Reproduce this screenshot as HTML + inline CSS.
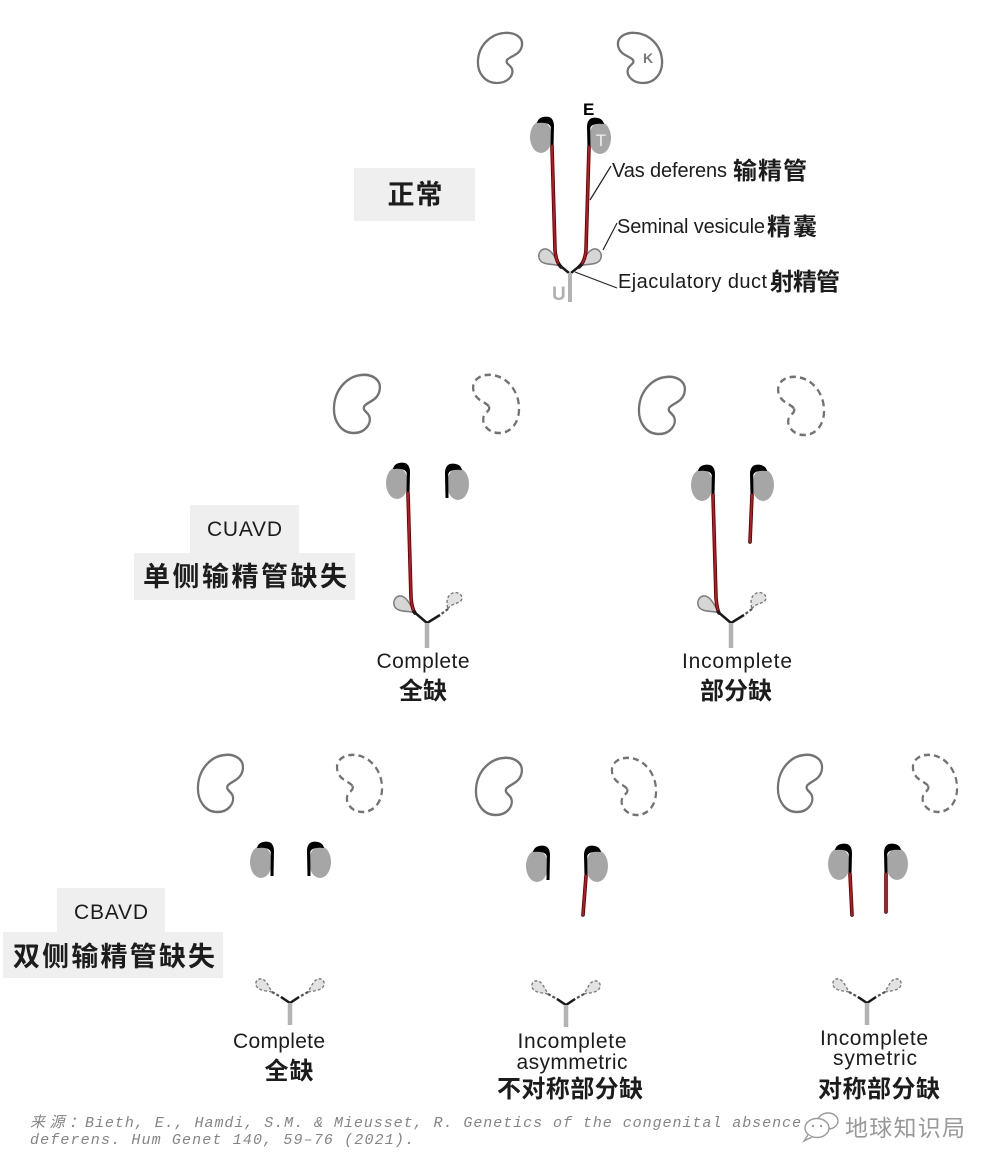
<!DOCTYPE html>
<html><head><meta charset="utf-8">
<style>
html,body{margin:0;padding:0;background:#fff;width:1000px;height:1170px;overflow:hidden}
svg{display:block}
.lat{font-family:"Liberation Sans",sans-serif;fill:#1c1c1c}
.cjk{font-family:"Liberation Sans","Noto Sans CJK SC",sans-serif;font-weight:bold;fill:#1c1c1c}
.mono{font-family:"Liberation Mono","Noto Sans CJK SC",monospace;font-style:italic;fill:#858585}
</style></head>
<body>
<svg width="1000" height="1170" viewBox="0 0 1000 1170" xmlns="http://www.w3.org/2000/svg">
<defs>
  <path id="kid" d="M30,27 C33,23 44,22 45,12 C46,3 36,-1 27,0 C14,1 2,12 1,27 C0,40 8,50 20,50 C31,50 37,42 35,36 C34,32 28,31 30,27 Z"/>
  <path id="e10" d="M-4,-14 C-3,-20 4,-21 8,-20 C11.5,-19 13,-15 13,-11 L12.5,10 L9.5,10 L9.8,-9 C9.8,-13 5,-15 -4,-14 Z" fill="#000"/>
  <path id="e14" d="M-4,-14 C-3,-20 4,-21 8,-20 C11.5,-19 13,-15 13,-11 L12.5,14 L9.5,14 L9.8,-9 C9.8,-13 5,-15 -4,-14 Z" fill="#000"/>
  <path id="sv" d="M0,0 C-4,-2 -11,-1 -16,-3 C-23,-5 -23,-15 -16,-17 C-10,-18 -6,-11 0,0 Z"/>
  <path id="svd" d="M0,0 C-4,-1 -12,-1 -15,-5 C-18,-9 -15,-14 -10,-13 C-6,-12 -4,-7 0,0 Z"/>
</defs>

<!-- ============ TOP (normal) ============ -->
<g fill="none" stroke="#737373" stroke-width="2.3">
  <use href="#kid" transform="translate(477,33)"/>
  <use href="#kid" transform="translate(663,33) scale(-1,1)"/>
</g>
<text x="643" y="63" font-family="Liberation Sans,sans-serif" font-size="14" font-weight="bold" fill="#777">K</text>

<ellipse cx="541" cy="137" rx="11" ry="16" fill="#a6a6a6"/>
<ellipse cx="600" cy="138" rx="11" ry="16" fill="#a6a6a6"/>
<use href="#e10" transform="translate(541,137)"/>
<use href="#e10" transform="translate(600,138) scale(-1,1)"/>
<text x="601" y="146" text-anchor="middle" font-family="Liberation Sans,sans-serif" font-size="17" fill="#f0f0f0">T</text>
<text x="583" y="115" font-family="Liberation Sans,sans-serif" font-size="17" font-weight="bold" fill="#000">E</text>

<!-- vesicles top -->
<g fill="#d6d6d6" stroke="#7d7d7d" stroke-width="1.5">
  <use href="#sv" transform="translate(560,266)"/>
  <use href="#sv" transform="translate(580,266) scale(-1,1)"/>
</g>
<!-- red vas -->
<g fill="none" stroke-linecap="round">
  <path d="M552,146 L555,250 Q556,262 561,267" stroke="#3d0808" stroke-width="3.6"/>
  <path d="M552,146 L555,250 Q556,262 561,267" stroke="#c3161c" stroke-width="2"/>
  <path d="M589,147 L586,250 Q585,262 579,267" stroke="#3d0808" stroke-width="3.6"/>
  <path d="M589,147 L586,250 Q585,262 579,267" stroke="#c3161c" stroke-width="2"/>
</g>
<g stroke="#1a1a1a" stroke-width="2.5" fill="none">
  <path d="M558,264 L569,273"/>
  <path d="M582,264 L571,273"/>
</g>
<line x1="570" y1="273" x2="570" y2="302" stroke="#b3b3b3" stroke-width="4"/>
<text x="552" y="300" font-family="Liberation Sans,sans-serif" font-size="19" font-weight="bold" fill="#b0b0b0">U</text>

<!-- leaders -->
<g stroke="#222" stroke-width="1.2">
  <line x1="590" y1="200" x2="611" y2="166"/>
  <line x1="603" y1="250" x2="617" y2="223"/>
  <line x1="575" y1="272" x2="617" y2="288"/>
</g>
<text x="612" y="177" class="lat" font-size="20" textLength="115">Vas deferens</text>
<text x="733" y="179" class="cjk" font-size="24" textLength="74">输精管</text>
<text x="617" y="233" class="lat" font-size="20" textLength="148">Seminal vesicule</text>
<text x="767" y="235" class="cjk" font-size="24" textLength="50">精囊</text>
<text x="618" y="288" class="lat" font-size="20" textLength="149">Ejaculatory duct</text>
<text x="770" y="290" class="cjk" font-size="24" textLength="70">射精管</text>

<!-- section labels -->
<rect x="354" y="168" width="121" height="53" fill="#efefef"/>
<text x="415" y="204" text-anchor="middle" class="cjk" font-size="27" textLength="55">正常</text>

<rect x="190" y="505" width="109" height="48" fill="#efefef"/>
<text x="244.5" y="536" text-anchor="middle" class="lat" font-size="21" textLength="75">CUAVD</text>
<rect x="134" y="553" width="221" height="47" fill="#efefef"/>
<text x="245" y="586" text-anchor="middle" class="cjk" font-size="27" textLength="204">单侧输精管缺失</text>

<rect x="57" y="888" width="108" height="44" fill="#efefef"/>
<text x="111" y="919" text-anchor="middle" class="lat" font-size="21" textLength="74">CBAVD</text>
<rect x="3" y="932" width="220" height="46" fill="#efefef"/>
<text x="114" y="966" text-anchor="middle" class="cjk" font-size="27" textLength="202">双侧输精管缺失</text>

<!-- ============ MIDDLE LEFT (CUAVD complete) ============ -->
<use href="#kid" fill="none" stroke="#737373" stroke-width="2.2" transform="translate(333,375) scale(1.04,1.16)"/>
<use href="#kid" fill="none" stroke="#737373" stroke-width="2.2" stroke-dasharray="6 4" transform="translate(520,375) scale(-1.04,1.16)"/>
<ellipse cx="397" cy="483" rx="11" ry="16" fill="#a6a6a6"/>
<ellipse cx="458" cy="484" rx="11" ry="16" fill="#a6a6a6"/>
<use href="#e10" transform="translate(397,483)"/>
<use href="#e14" transform="translate(458,484) scale(-1,1)"/>
<g fill="#d6d6d6" stroke="#7d7d7d" stroke-width="1.5">
  <use href="#sv" transform="translate(415,613)"/>
</g>
<path d="M448,609 C450,603 462,604 462,598 C462,593 455,591 451,594 C447,596 446,603 448,609 Z" fill="#e2e2e2" stroke="#7d7d7d" stroke-width="1.4" stroke-dasharray="3 2"/>
<g fill="none" stroke-linecap="round">
  <path d="M408,493 L411,598 Q412,609 415,613" stroke="#3d0808" stroke-width="3.6"/>
  <path d="M408,493 L411,598 Q412,609 415,613" stroke="#c3161c" stroke-width="2"/>
</g>
<path d="M413,611 L427,623" stroke="#1a1a1a" stroke-width="2.5"/>
<path d="M448,609 L440,615" stroke="#555" stroke-width="2.2" stroke-dasharray="3 2"/>
<path d="M440,615 L427,623" stroke="#1a1a1a" stroke-width="2.5"/>
<line x1="427" y1="623" x2="427" y2="648" stroke="#b3b3b3" stroke-width="4.5"/>
<text x="423" y="668" text-anchor="middle" class="lat" font-size="21" textLength="93">Complete</text>
<text x="423" y="699" text-anchor="middle" class="cjk" font-size="24" textLength="48">全缺</text>

<!-- ============ MIDDLE RIGHT (CUAVD incomplete) ============ -->
<use href="#kid" fill="none" stroke="#737373" stroke-width="2.2" transform="translate(638,377) scale(1.04,1.14)"/>
<use href="#kid" fill="none" stroke="#737373" stroke-width="2.2" stroke-dasharray="6 4" transform="translate(825,377) scale(-1.04,1.16)"/>
<ellipse cx="702" cy="485" rx="11" ry="16" fill="#a6a6a6"/>
<ellipse cx="763" cy="485" rx="11" ry="16" fill="#a6a6a6"/>
<use href="#e10" transform="translate(702,485)"/>
<use href="#e10" transform="translate(763,485) scale(-1,1)"/>
<g fill="#d6d6d6" stroke="#7d7d7d" stroke-width="1.5">
  <use href="#sv" transform="translate(719,613)"/>
</g>
<path d="M752,609 C754,603 766,604 766,598 C766,593 759,591 755,594 C751,596 750,603 752,609 Z" fill="#e2e2e2" stroke="#7d7d7d" stroke-width="1.4" stroke-dasharray="3 2"/>
<g fill="none" stroke-linecap="round">
  <path d="M713,495 L716,598 Q717,609 719,613" stroke="#3d0808" stroke-width="3.6"/>
  <path d="M713,495 L716,598 Q717,609 719,613" stroke="#c3161c" stroke-width="2"/>
  <path d="M752,495 L750,542" stroke="#3d0808" stroke-width="3.6"/>
  <path d="M752,495 L750,542" stroke="#c3161c" stroke-width="2"/>
</g>
<path d="M717,611 L731,623" stroke="#1a1a1a" stroke-width="2.5"/>
<path d="M752,609 L744,615" stroke="#555" stroke-width="2.2" stroke-dasharray="3 2"/>
<path d="M744,615 L731,623" stroke="#1a1a1a" stroke-width="2.5"/>
<line x1="731" y1="623" x2="731" y2="648" stroke="#b3b3b3" stroke-width="4.5"/>
<text x="737" y="668" text-anchor="middle" class="lat" font-size="21" textLength="110">Incomplete</text>
<text x="736" y="699" text-anchor="middle" class="cjk" font-size="24" textLength="72">部分缺</text>

<!-- ============ BOTTOM LEFT (CBAVD complete) ============ -->
<use href="#kid" fill="none" stroke="#737373" stroke-width="2.2" transform="translate(197,755) scale(1.02,1.14)"/>
<use href="#kid" fill="none" stroke="#737373" stroke-width="2.2" stroke-dasharray="6 4" transform="translate(383,755) scale(-1.02,1.14)"/>
<ellipse cx="261" cy="862" rx="11" ry="16" fill="#a6a6a6"/>
<ellipse cx="320" cy="862" rx="11" ry="16" fill="#a6a6a6"/>
<use href="#e14" transform="translate(261,862)"/>
<use href="#e14" transform="translate(320,862) scale(-1,1)"/>

<!-- bottom systems (both vesicles absent) -->
<g id="sysBL" transform="translate(290,1003)">
  <g fill="#e2e2e2" stroke="#7d7d7d" stroke-width="1.4" stroke-dasharray="3 2">
    <use href="#svd" transform="translate(-18,-11)"/>
    <use href="#svd" transform="translate(18,-11) scale(-1,1)"/>
  </g>
  <path d="M-18,-11 L-9,-6" stroke="#555" stroke-width="2.2" stroke-dasharray="3 2"/>
  <path d="M18,-11 L9,-6" stroke="#555" stroke-width="2.2" stroke-dasharray="3 2"/>
  <path d="M-9,-6 L0,0 L9,-6" fill="none" stroke="#1a1a1a" stroke-width="2.5"/>
  <line x1="0" y1="0" x2="0" y2="22" stroke="#b3b3b3" stroke-width="4.5"/>
</g>
<text x="279" y="1048" text-anchor="middle" class="lat" font-size="21" textLength="92">Complete</text>
<text x="289" y="1079" text-anchor="middle" class="cjk" font-size="24" textLength="49">全缺</text>

<!-- ============ BOTTOM MIDDLE (asymmetric) ============ -->
<use href="#kid" fill="none" stroke="#737373" stroke-width="2.2" transform="translate(475,758) scale(1.04,1.14)"/>
<use href="#kid" fill="none" stroke="#737373" stroke-width="2.2" stroke-dasharray="6 4" transform="translate(657,758) scale(-1,1.14)"/>
<ellipse cx="537" cy="866" rx="11" ry="16" fill="#a6a6a6"/>
<ellipse cx="597" cy="866" rx="11" ry="16" fill="#a6a6a6"/>
<use href="#e14" transform="translate(537,866)"/>
<use href="#e10" transform="translate(597,866) scale(-1,1)"/>
<g fill="none" stroke-linecap="round">
  <path d="M586,876 L583,915" stroke="#3d0808" stroke-width="3.6"/>
  <path d="M586,876 L583,915" stroke="#c3161c" stroke-width="2"/>
</g>
<use href="#sysBL" transform="translate(276,2)"/>
<text x="572" y="1048" text-anchor="middle" class="lat" font-size="21" textLength="109">Incomplete</text>
<text x="572" y="1069" text-anchor="middle" class="lat" font-size="21" textLength="111">asymmetric</text>
<text x="570" y="1097" text-anchor="middle" class="cjk" font-size="24" textLength="146">不对称部分缺</text>

<!-- ============ BOTTOM RIGHT (symmetric) ============ -->
<use href="#kid" fill="none" stroke="#737373" stroke-width="2.2" transform="translate(777,755) scale(1,1.14)"/>
<use href="#kid" fill="none" stroke="#737373" stroke-width="2.2" stroke-dasharray="6 4" transform="translate(958,755) scale(-1,1.14)"/>
<ellipse cx="839" cy="864" rx="11" ry="16" fill="#a6a6a6"/>
<ellipse cx="897" cy="864" rx="11" ry="16" fill="#a6a6a6"/>
<use href="#e10" transform="translate(839,864)"/>
<use href="#e10" transform="translate(897,864) scale(-1,1)"/>
<g fill="none" stroke-linecap="round">
  <path d="M850,874 L852,915" stroke="#3d0808" stroke-width="3.6"/>
  <path d="M850,874 L852,915" stroke="#c3161c" stroke-width="2"/>
  <path d="M886,874 L886,912" stroke="#3d0808" stroke-width="3.6"/>
  <path d="M886,874 L886,912" stroke="#c3161c" stroke-width="2"/>
</g>
<use href="#sysBL" transform="translate(577,0)"/>
<text x="874" y="1045" text-anchor="middle" class="lat" font-size="21" textLength="108">Incomplete</text>
<text x="875" y="1065" text-anchor="middle" class="lat" font-size="21" textLength="84">symetric</text>
<text x="879" y="1097" text-anchor="middle" class="cjk" font-size="24" textLength="122">对称部分缺</text>

<!-- ============ FOOTER ============ -->
<text x="30" y="1127" class="mono" font-size="15" textLength="54">来源：</text>
<text x="85" y="1127" class="mono" font-size="15" textLength="716">Bieth, E., Hamdi, S.M. &amp; Mieusset, R. Genetics of the congenital absence</text>
<text x="30" y="1144" class="mono" font-size="15" textLength="384">deferens. Hum Genet 140, 59–76 (2021).</text>

<!-- watermark -->
<g fill="#fff" stroke="#9a9a9a" stroke-width="1.4">
  <ellipse cx="828" cy="1121" rx="10" ry="8"/>
  <ellipse cx="817" cy="1128" rx="12" ry="9.5"/>
  <path d="M808,1135 L804,1141 L812,1137" />
</g>
<g fill="#9a9a9a">
  <circle cx="813" cy="1126" r="1.2"/>
  <circle cx="821" cy="1126" r="1.2"/>
</g>
<text x="845" y="1136" font-family="'Noto Sans CJK SC',sans-serif" font-size="23" fill="#999" textLength="120">地球知识局</text>
</svg>
</body></html>
